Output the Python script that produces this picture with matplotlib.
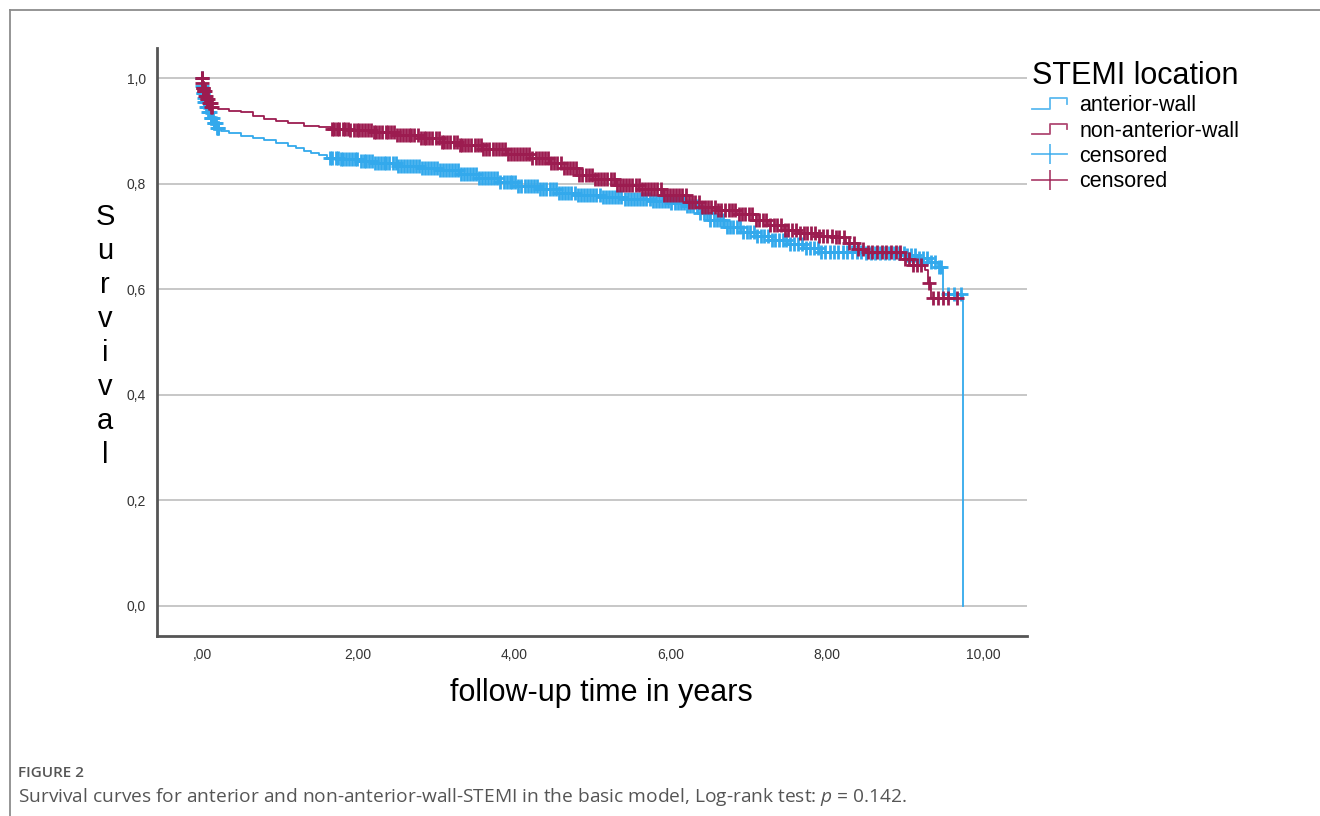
import numpy as np
import matplotlib as mpl
mpl.use('Agg')
from matplotlib import pyplot as plt
from matplotlib.lines import Line2D
from matplotlib.legend_handler import HandlerBase

plt.rcParams['font.family'] = ['Liberation Sans', 'DejaVu Sans']
plt.rcParams['mathtext.fontset'] = 'custom'
plt.rcParams['mathtext.it'] = 'Open Sans:italic'
plt.rcParams['mathtext.rm'] = 'Open Sans'

# Kaplan-Meier steps (time in years, survival after step)
ant_t = [0.0, 0.005, 0.01, 0.02, 0.03, 0.05, 0.08, 0.11, 0.15, 0.19, 0.25, 0.35, 0.5,
         0.65, 0.8, 0.95, 1.1, 1.2, 1.3, 1.4, 1.5, 1.6, 1.75, 2.0, 2.2, 2.5, 2.8, 3.05,
         3.3, 3.55, 3.8, 4.05, 4.3, 4.55, 4.8, 5.1, 5.4, 5.75, 6.0, 6.2, 6.35, 6.5, 6.7,
         6.9, 7.1, 7.3, 7.5, 7.7, 7.9, 8.5, 9.0, 9.15, 9.3, 9.42, 9.49, 9.74]
ant_s = [1.0, 0.985, 0.972, 0.962, 0.955, 0.945, 0.935, 0.925, 0.915, 0.905, 0.899, 0.895,
         0.891, 0.887, 0.882, 0.877, 0.872, 0.868, 0.862, 0.858, 0.854, 0.849, 0.847, 0.843,
         0.839, 0.833, 0.829, 0.825, 0.818, 0.810, 0.803, 0.796, 0.789, 0.783, 0.778, 0.774,
         0.771, 0.768, 0.764, 0.757, 0.745, 0.732, 0.718, 0.708, 0.701, 0.694, 0.686, 0.679,
         0.671, 0.668, 0.664, 0.659, 0.652, 0.642, 0.590, 0.0]

non_t = [0.0, 0.005, 0.01, 0.02, 0.04, 0.06, 0.09, 0.12, 0.2, 0.35, 0.5, 0.65, 0.8, 0.95,
         1.1, 1.3, 1.5, 1.65, 1.9, 2.2, 2.5, 2.8, 3.05, 3.3, 3.6, 3.9, 4.2, 4.45, 4.6, 4.8,
         5.0, 5.3, 5.6, 5.9, 6.2, 6.4, 6.6, 6.85, 7.05, 7.25, 7.45, 7.65, 7.9, 8.1, 8.25,
         8.4, 8.5, 8.95, 9.1, 9.25, 9.29, 9.33]
non_s = [1.0, 0.99, 0.982, 0.975, 0.966, 0.96, 0.953, 0.946, 0.942, 0.938, 0.935, 0.929,
         0.923, 0.918, 0.914, 0.910, 0.907, 0.904, 0.901, 0.897, 0.892, 0.886, 0.879, 0.873,
         0.866, 0.857, 0.849, 0.840, 0.830, 0.817, 0.808, 0.797, 0.789, 0.779, 0.765, 0.756,
         0.750, 0.742, 0.732, 0.721, 0.712, 0.706, 0.701, 0.698, 0.688, 0.677, 0.670, 0.657,
         0.645, 0.636, 0.612, 0.583]

# censoring times
ant_cens = [0.0, 0.005, 0.01, 0.015, 0.02, 0.03, 0.04, 0.05, 0.06, 0.07, 0.08, 0.09, 0.1,
            0.11, 0.12, 0.13, 0.14, 0.15, 0.16, 0.17, 0.18, 0.19, 0.2, 0.21,
            1.64, 1.67, 1.71, 1.74, 1.78, 1.81, 1.85, 1.88, 1.92, 1.96, 1.99, 2.03, 2.07,
            2.1, 2.14, 2.18, 2.21, 2.25, 2.29, 2.33, 2.36, 2.4, 2.44, 2.48, 2.51, 2.55, 2.59,
            2.63, 2.66, 2.7, 2.74, 2.78, 2.82, 2.85, 2.89, 2.93, 2.97, 3.01, 3.05, 3.08,
            3.12, 3.16, 3.2, 3.24, 3.28, 3.31, 3.35, 3.39, 3.43, 3.47, 3.51, 3.55, 3.58,
            3.62, 3.66, 3.7, 3.74, 3.78, 3.82, 3.86, 3.9, 3.94, 3.97, 4.01, 4.05, 4.09,
            4.13, 4.17, 4.21, 4.25, 4.29, 4.33, 4.37, 4.41, 4.45, 4.49, 4.53, 4.57, 4.61,
            4.65, 4.69, 4.73, 4.77, 4.81, 4.85, 4.89, 4.93, 4.97, 5.01, 5.05, 5.09, 5.13,
            5.17, 5.21, 5.25, 5.29, 5.33, 5.37, 5.41, 5.45, 5.49, 5.53, 5.57, 5.61, 5.65,
            5.69, 5.73, 5.77, 5.81, 5.85, 5.89, 5.93, 5.97, 6.01, 6.05, 6.09, 6.13, 6.17,
            6.21, 6.25, 6.29, 6.34, 6.38, 6.42, 6.46, 6.5, 6.55, 6.59, 6.63, 6.67, 6.72,
            6.76, 6.8, 6.85, 6.89, 6.93, 6.98, 7.02, 7.07, 7.11, 7.16, 7.2, 7.25, 7.3,
            7.34, 7.39, 7.44, 7.48, 7.53, 7.58, 7.63, 7.68, 7.73, 7.78, 7.83, 7.88, 7.93,
            7.98, 8.04, 8.09, 8.14, 8.2, 8.26, 8.32, 8.38, 8.44, 8.5, 8.56, 8.62, 8.68,
            8.74, 8.8, 8.86, 8.92, 8.98, 9.03, 9.08, 9.13, 9.18, 9.23, 9.28, 9.33, 9.38,
            9.43, 9.46, 9.55, 9.62, 9.72]
non_cens = [0.0, 0.003, 0.006, 0.01, 0.013, 0.016, 0.02, 0.025, 0.03, 0.035, 0.04, 0.05,
            0.06, 0.07, 0.08, 0.09, 0.1, 0.11, 0.12, 0.13,
            1.66, 1.69, 1.73, 1.76, 1.8, 1.83, 1.87, 1.9, 1.94, 1.98, 2.01, 2.05, 2.09,
            2.12, 2.16, 2.2, 2.23, 2.27, 2.31, 2.35, 2.38, 2.42, 2.46, 2.5, 2.53, 2.57,
            2.61, 2.65, 2.68, 2.72, 2.76, 2.8, 2.84, 2.87, 2.91, 2.95, 2.99, 3.03, 3.07,
            3.1, 3.14, 3.18, 3.22, 3.26, 3.3, 3.33, 3.37, 3.41, 3.45, 3.49, 3.53, 3.57,
            3.6, 3.64, 3.68, 3.72, 3.76, 3.8, 3.84, 3.88, 3.92, 3.96, 3.99, 4.03, 4.07,
            4.11, 4.15, 4.19, 4.23, 4.27, 4.31, 4.35, 4.39, 4.43, 4.47, 4.51, 4.55, 4.59,
            4.63, 4.67, 4.71, 4.75, 4.79, 4.83, 4.87, 4.91, 4.95, 4.99, 5.03, 5.07, 5.11,
            5.15, 5.19, 5.23, 5.27, 5.31, 5.35, 5.39, 5.43, 5.47, 5.51, 5.55, 5.59, 5.63,
            5.67, 5.71, 5.75, 5.79, 5.83, 5.87, 5.91, 5.95, 5.99, 6.03, 6.07, 6.11, 6.15,
            6.19, 6.23, 6.27, 6.31, 6.36, 6.4, 6.44, 6.48, 6.52, 6.57, 6.61, 6.65, 6.69,
            6.74, 6.78, 6.82, 6.87, 6.91, 6.95, 7.0, 7.04, 7.09, 7.13, 7.18, 7.22, 7.27,
            7.32, 7.36, 7.41, 7.46, 7.5, 7.55, 7.6, 7.65, 7.7, 7.75, 7.8, 7.85, 7.9, 7.95,
            8.0, 8.06, 8.11, 8.16, 8.22, 8.28, 8.34, 8.4, 8.46, 8.52, 8.58, 8.64, 8.7,
            8.76, 8.82, 8.88, 8.94, 9.0, 9.05, 9.1, 9.15, 9.2, 9.3, 9.36, 9.42, 9.48, 9.55,
            9.67]

x_ticks = [0, 2, 4, 6, 8, 10]
x_labels = [',00', '2,00', '4,00', '6,00', '8,00', '10,00']
y_ticks = [0.0, 0.2, 0.4, 0.6, 0.8, 1.0]
y_labels = ['0,0', '0,2', '0,4', '0,6', '0,8', '1,0']

blue = '#33a9ec'
red = '#9c1c50'


def surv_at(times, surv, c):
    idx = np.searchsorted(times, c, side='right') - 1
    return np.asarray(surv)[idx]


class StepHandler(HandlerBase):
    def create_artists(self, legend, orig_handle, xdescent, ydescent, width, height,
                       fontsize, trans):
        x0 = -xdescent
        y0 = -ydescent
        xs = [x0, x0 + 0.5 * width, x0 + 0.5 * width, x0 + width, x0 + width]
        ys = [y0 + 0.15 * height, y0 + 0.15 * height, y0 + 0.85 * height,
              y0 + 0.85 * height, y0 + 0.5 * height]
        line = Line2D(xs, ys, color=orig_handle.get_color(), lw=1.3, alpha=0.8)
        line.set_transform(trans)
        return [line]


fig = plt.figure(figsize=(13.2, 8.16), dpi=100)
ax = fig.add_axes([0.1189, 0.2206, 0.6591, 0.7206])

for t, s, cens, col in [(ant_t, ant_s, ant_cens, blue), (non_t, non_s, non_cens, red)]:
    tt = list(t)
    ss = list(s)
    if max(cens) > tt[-1]:
        tt.append(max(cens))
        ss.append(ss[-1])
    ax.step(tt, ss, where='post', color=col, lw=1.3, zorder=3)
    ax.plot(cens, surv_at(t, s, np.array(cens)), ls='none', marker='+', color=col,
            markersize=9.5, mew=2.0, zorder=3)

ax.set_xlim(-0.576, 10.56)
ax.set_ylim(-0.057, 1.057)
ax.set_xticks(x_ticks)
ax.set_xticklabels(x_labels)
ax.set_yticks(y_ticks)
ax.set_yticklabels(y_labels)
ax.tick_params(length=0, labelsize=10, labelcolor='#333333')
ax.tick_params(axis='x', pad=9)
ax.tick_params(axis='y', pad=8)
ax.grid(axis='y', color='#bdbdbd', lw=1.2)
ax.set_axisbelow(True)
for side in ['top', 'right']:
    ax.spines[side].set_visible(False)
for side in ['left', 'bottom']:
    ax.spines[side].set_color('#555555')
    ax.spines[side].set_linewidth(2)

# stacked y-axis title and x-axis title
fig.text(105 / 1320, 1 - 336 / 816, '\n'.join('Survival'), fontsize=21, ha='center',
         va='center', multialignment='center', linespacing=1.27)
fig.text(601 / 1320, 1 - 693 / 816, 'follow-up time in years', fontsize=22,
         ha='center', va='center')

handles = [Line2D([], [], color=blue), Line2D([], [], color=red),
           Line2D([], [], color=blue, marker='|', markersize=15, mew=1.3, lw=1.3, alpha=0.8),
           Line2D([], [], color=red, marker='|', markersize=15, mew=1.3, lw=1.3, alpha=0.8)]
labels = ['anterior-wall', 'non-anterior-wall', 'censored', 'censored']
leg = fig.legend(handles, labels, title='STEMI location', loc='upper left',
                 bbox_to_anchor=(1032 / 1320, 1 - 61 / 816), frameon=False,
                 fontsize=15.5, title_fontsize=22, alignment='left', handlelength=1.63,
                 handletextpad=0.56, labelspacing=0.2, borderpad=0, borderaxespad=0,
                 numpoints=1,
                 handler_map={handles[0]: StepHandler(), handles[1]: StepHandler()})

# page frame lines
fig.add_artist(Line2D([10 / 1320, 10 / 1320], [0, 1 - 10 / 816], color='#8c8c8c', lw=1.3,
                      transform=fig.transFigure))
fig.add_artist(Line2D([10 / 1320, 1], [1 - 10 / 816, 1 - 10 / 816], color='#8c8c8c', lw=1.3,
                      transform=fig.transFigure))

fig.text(18 / 1320, 1 - 773 / 816, 'FIGURE 2', fontsize=11, color='#555555',
         family='Open Sans', weight='semibold', va='center')
fig.text(18 / 1320, 1 - 797 / 816,
         'Survival curves for anterior and non-anterior-wall-STEMI in the basic model, '
         'Log-rank test: $p$ = 0.142.', fontsize=13.8, color='#555555',
         family='Open Sans', va='center')

fig.savefig('out.png', dpi=100)
